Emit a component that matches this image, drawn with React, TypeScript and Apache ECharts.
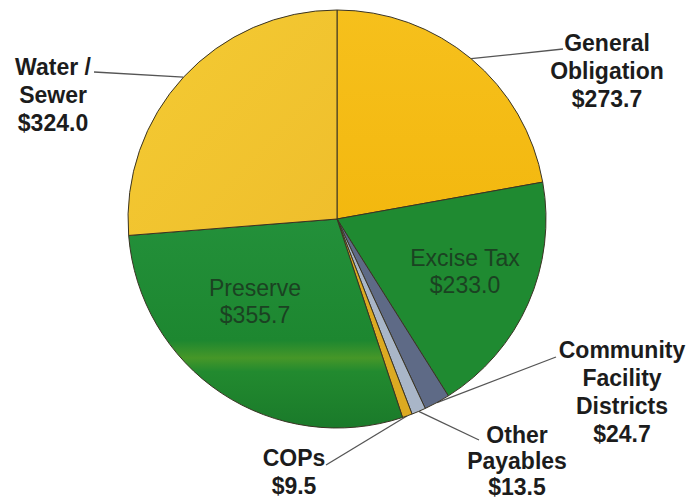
import React, { useEffect, useRef } from "react";
import * as echarts from "echarts";

// ---- data ----
const categories = [
  "General\nObligation",
  "Excise Tax",
  "Community\nFacility\nDistricts",
  "Other\nPayables",
  "COPs",
  "Preserve",
  "Water /\nSewer",
];
const values = [273.7, 233.0, 24.7, 13.5, 9.5, 355.7, 324.0];
const insideLabel = [false, true, false, false, false, true, false];

// ---- styling / layout (not data) ----
const sliceColors: any[] = [
  { type: "linear", x: 0, y: 0, x2: 0, y2: 1, colorStops: [
    { offset: 0, color: "#f6c01c" }, { offset: 1, color: "#f3b80f" } ] },
  "#1f8a31",
  "#5e6a86",
  "#a9b6c8",
  "#dcaa22",
  { type: "linear", x: 0, y: 0, x2: 0, y2: 1, colorStops: [
    { offset: 0, color: "#23903a" }, { offset: 0.58, color: "#1d8730" },
    { offset: 0.665, color: "#469728" }, { offset: 0.73, color: "#228a2f" },
    { offset: 1, color: "#1a7a2a" } ] },
  { type: "linear", x: 0, y: 0, x2: 1, y2: 1, colorStops: [
    { offset: 0, color: "#f4cb33" }, { offset: 1, color: "#efbe2c" } ] },
];
// label block anchor: [centerX, y, lineEndX, lineEndY, lineHeight]
const labelPos: number[][] = [
  [607, 29, 563, 49, 28],
  [465, 271, 0, 0, 27],
  [622, 336, 556, 357, 28],
  [517, 422, 479, 440, 26],
  [294, 444, 326, 465, 28],
  [255, 301, 0, 0, 27],
  [53, 53, 94, 72, 28],
];

export default function App() {
  const ref = useRef<HTMLDivElement>(null);
  useEffect(() => {
    if (!ref.current) return;
    const chart = echarts.init(ref.current, null, { renderer: "svg" });
    const data = categories.map((name, i) => ({
      name,
      value: values[i],
      itemStyle: { color: sliceColors[i] },
      label: insideLabel[i]
        ? {
            position: "inside",
            fontFamily: "Liberation Sans, Arial, sans-serif",
            fontSize: 23,
            fontWeight: "normal",
            lineHeight: labelPos[i][4],
            color: "#1b4222",
          }
        : { position: "outside", lineHeight: labelPos[i][4] },
      labelLine: { show: !insideLabel[i] },
    }));
    chart.setOption({
      animation: false,
      backgroundColor: "#ffffff",
      series: [
        {
          type: "pie",
          center: [337, 219],
          radius: 209,
          startAngle: 90,
          clockwise: true,
          avoidLabelOverlap: false,
          itemStyle: { borderColor: "#3a3424", borderWidth: 1 },
          label: {
            show: true,
            formatter: (p: any) => `${p.name}\n$${Number(p.value).toFixed(1)}`,
            fontFamily: "Liberation Sans, Arial, sans-serif",
            fontSize: 23,
            fontWeight: "bold",
            lineHeight: 28,
            color: "#1c1c1c",
            align: "center",
          },
          labelLine: {
            show: true,
            lineStyle: { color: "#555555", width: 1.3 },
          },
          labelLayout: (params: any) => {
            const i = params.dataIndex;
            const pos = labelPos[i];
            if (insideLabel[i]) {
              return { x: pos[0], y: pos[1], align: "center", verticalAlign: "middle" };
            }
            const pts = params.labelLinePoints;
            const start = pts && pts.length ? pts[0] : [pos[2], pos[3]];
            return {
              x: pos[0],
              y: pos[1],
              align: "center",
              verticalAlign: "top",
              hideOverlap: false,
              labelLinePoints: [start, [pos[2], pos[3]]],
            };
          },
          data,
        },
      ],
    });
    return () => chart.dispose();
  }, []);
  return (
    <div
      ref={ref}
      style={{ position: "fixed", left: 0, top: 0, width: 691, height: 502 }}
    />
  );
}
